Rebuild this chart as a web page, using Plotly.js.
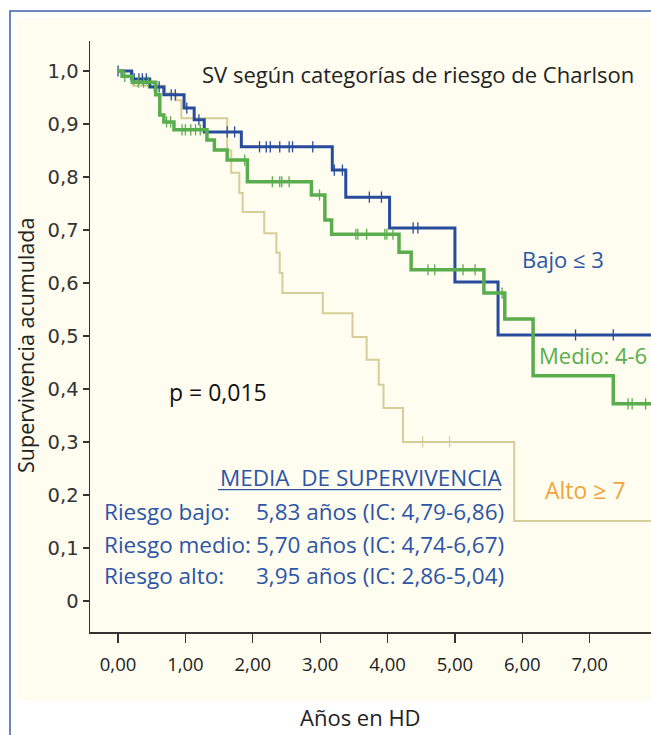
<!DOCTYPE html>
<html>
<head>
<meta charset="utf-8">
<script src="https://cdn.plot.ly/plotly-3.0.1.min.js"></script>
<style>html,body{margin:0;padding:0;background:#fff;}#chart{width:651px;height:735px;}</style>
</head>
<body>
<div id="chart"></div>
<script>
// ---- Data ----
const seriesNames = ["Alto ≥ 7", "Bajo ≤ 3", "Medio: 4-6"];

// Riesgo bajo (≤ 3)
const bajoTimes = [0, 0.2, 0.47, 0.68, 0.98, 1.13, 1.28, 1.83, 3.18, 3.38, 4.03, 5.0, 5.64];
const bajoSurv  = [1.0, 0.985, 0.97, 0.955, 0.93, 0.908, 0.885, 0.857, 0.813, 0.762, 0.704, 0.602, 0.502];
const bajoLastFollowUp = 8.0;
const bajoCensored = [0.0, 0.24, 0.31, 0.36, 0.42, 0.54, 0.61, 0.79, 0.85, 1.02, 1.2, 1.62, 1.73, 2.10, 2.20, 2.26, 2.40, 2.54, 2.59, 2.89, 3.21, 3.33, 3.73, 3.91, 4.38, 4.45, 6.79, 7.35];

// Riesgo medio (4-6)
const medioTimes = [0, 0.06, 0.21, 0.56, 0.62, 0.68, 0.83, 1.32, 1.43, 1.62, 1.92, 2.87, 3.07, 3.17, 4.17, 4.35, 5.43, 5.74, 6.16, 7.35];
const medioSurv  = [1.0, 0.99, 0.979, 0.955, 0.917, 0.904, 0.889, 0.870, 0.851, 0.832, 0.791, 0.766, 0.719, 0.692, 0.658, 0.625, 0.581, 0.532, 0.425, 0.372];
const medioLastFollowUp = 8.0;
const medioCensored = [0.1, 0.3, 0.38, 0.45, 0.72, 0.78, 0.95, 1.0, 1.08, 1.15, 1.22, 1.88, 2.29, 2.40, 2.43, 2.54, 2.99, 3.53, 3.56, 3.69, 3.96, 3.99, 4.08, 4.6, 4.7, 5.12, 5.30, 5.70, 7.57, 7.63, 7.83];

// Riesgo alto (≥ 7)
const altoTimes = [0, 0.22, 0.70, 0.86, 0.94, 1.62, 1.68, 1.80, 1.85, 2.17, 2.35, 2.40, 2.44, 3.04, 3.48, 3.69, 3.87, 3.94, 4.23, 5.88];
const altoSurv  = [1.0, 0.972, 0.958, 0.945, 0.911, 0.85, 0.808, 0.77, 0.734, 0.694, 0.657, 0.619, 0.581, 0.543, 0.498, 0.455, 0.408, 0.364, 0.300, 0.151];
const altoLastFollowUp = 8.0;
const altoCensored = [4.52, 4.92];

// Axis ticks and titles
const xTickVals = [0, 1, 2, 3, 4, 5, 6, 7];
const xTickText = ["0,00", "1,00", "2,00", "3,00", "4,00", "5,00", "6,00", "7,00"];
const yTickVals = [0, 0.1, 0.2, 0.3, 0.4, 0.5, 0.6, 0.7, 0.8, 0.9, 1.0];
const yTickText = ["0", "0,1", "0,2", "0,3", "0,4", "0,5", "0,6", "0,7", "0,8", "0,9", "1,0"];
const xTitle = "Años en HD";
const yTitle = "Supervivencia acumulada";

// Summary table
const summaryHeader = "MEDIA  DE SUPERVIVENCIA";
const summaryLabels = ["Riesgo bajo:", "Riesgo medio:", "Riesgo alto:"];
const summaryValues = ["5,83 años (IC: 4,79-6,86)", "5,70 años (IC: 4,74-6,67)", "3,95 años (IC: 2,86-5,04)"];
const pValueText = "p = 0,015";
const chartTitle = "SV según categorías de riesgo de Charlson";

// ---- Helpers ----
function stepLine(times, surv, last) {
  return { x: times.concat([last]), y: surv.concat([surv[surv.length - 1]]) };
}
function survAt(times, surv, t) {
  let s = surv[0];
  for (let i = 0; i < times.length; i++) if (times[i] <= t) s = surv[i];
  return s;
}

const C_BLUE = "#284c9c", C_GREEN = "#5aad4c", C_TAN = "#d6cd98", C_ORANGE = "#f0a53a";
const TXT_BLUE = "#2d55a5";

function kmTraces(times, surv, last, cens, color, width, name) {
  const l = stepLine(times, surv, last);
  return [
    { x: l.x, y: l.y, type: "scatter", mode: "lines", line: { shape: "hv", color: color, width: width }, name: name, hoverinfo: "skip" },
    { x: cens, y: cens.map(t => survAt(times, surv, t)), type: "scatter", mode: "markers",
      marker: { symbol: "line-ns", size: 8, line: { color: color, width: 1.3 } }, name: name + " (censurado)", hoverinfo: "skip" }
  ];
}

const data = []
  .concat(kmTraces(altoTimes, altoSurv, altoLastFollowUp, altoCensored, C_TAN, 2, seriesNames[0]))
  .concat(kmTraces(bajoTimes, bajoSurv, bajoLastFollowUp, bajoCensored, C_BLUE, 3, seriesNames[1]))
  .concat(kmTraces(medioTimes, medioSurv, medioLastFollowUp, medioCensored, C_GREEN, 3.5, seriesNames[2]));

const FONT = "'Open Sans', 'Noto Sans', sans-serif";
const CREAM = "#fefdf0";

const annotations = [
  { text: chartTitle, x: 0.196, y: 0.944, xanchor: "left", font: { size: 22, color: "#222" } },
  { text: "Bajo ≤ 3", x: 0.7665, y: 0.631, xanchor: "left", font: { size: 22, color: TXT_BLUE } },
  { text: "Medio: 4-6", x: 0.7968, y: 0.4687, xanchor: "left", font: { size: 22, color: C_GREEN } },
  { text: "Alto ≥ 7", x: 0.8075, y: 0.2403, xanchor: "left", font: { size: 23, color: C_ORANGE } },
  { text: pValueText, x: 0.1373, y: 0.4061, xanchor: "left", font: { size: 23, color: "#111" } },
  { text: summaryHeader, x: 0.2282, y: 0.2606, xanchor: "left", font: { size: 22.5, color: TXT_BLUE } },
  { text: xTitle, x: 0.483, y: -0.1438, xanchor: "center", font: { size: 22, color: "#222" } },
  { text: yTitle, x: -0.1159, y: 0.4856, xanchor: "center", textangle: -90, font: { size: 21.5, color: "#222" } }
];
const rowY = [0.2047, 0.1489, 0.0948];
summaryLabels.forEach((lab, i) => {
  annotations.push({ text: lab, x: 0.0214, y: rowY[i], xanchor: "left", font: { size: 22.5, color: TXT_BLUE } });
  annotations.push({ text: summaryValues[i], x: 0.2923, y: rowY[i], xanchor: "left", font: { size: 22.5, color: TXT_BLUE } });
});
annotations.forEach(a => { a.xref = "paper"; a.yref = "paper"; a.yanchor = "middle"; a.showarrow = false; a.font.family = FONT; });

const layout = {
  width: 651, height: 735,
  margin: { l: 90, r: 0, t: 41, b: 103 },
  paper_bgcolor: "#ffffff",
  plot_bgcolor: CREAM,
  showlegend: false,
  font: { family: FONT, color: "#222" },
  xaxis: {
    range: [-0.416, 7.91], tickvals: xTickVals, ticktext: xTickText,
    showgrid: false, zeroline: false, showline: true, linecolor: "#333", linewidth: 1.5,
    ticks: "outside", ticklen: 9, tickwidth: 1.2, tickcolor: "#333", ticklabelstandoff: 6,
    tickfont: { size: 18.5, color: "#222", family: FONT },
    automargin: false
  },
  yaxis: {
    range: [-0.0585, 1.0566], tickvals: yTickVals, ticktext: yTickText,
    showgrid: false, zeroline: false, showline: true, linecolor: "#333", linewidth: 1.5,
    ticks: "outside", ticklen: 6, tickwidth: 1.2, tickcolor: "#333",
    tickfont: { size: 19.5, color: "#333", family: "'DejaVu Sans', sans-serif" },
    automargin: false
  },
  shapes: [
    { type: "rect", xref: "paper", yref: "paper", x0: -0.1301, x1: 1.05, y0: -0.1151, y1: 1.0389,
      fillcolor: CREAM, line: { width: 0 }, layer: "below" },
    { type: "rect", xref: "paper", yref: "paper", x0: -0.1426, x1: 1.1, y0: -0.3, y1: 1.0508,
      fillcolor: "rgba(0,0,0,0)", line: { color: "#3a5eab", width: 1.5 }, layer: "below" },
    { type: "line", xref: "paper", yref: "paper", x0: 0.2282, x1: 0.7326, y0: 0.2410, y1: 0.2410,
      line: { color: TXT_BLUE, width: 1.3 } }
  ],
  annotations: annotations
};

Plotly.newPlot("chart", data, layout, { staticPlot: true, displayModeBar: false });
</script>
</body>
</html>
